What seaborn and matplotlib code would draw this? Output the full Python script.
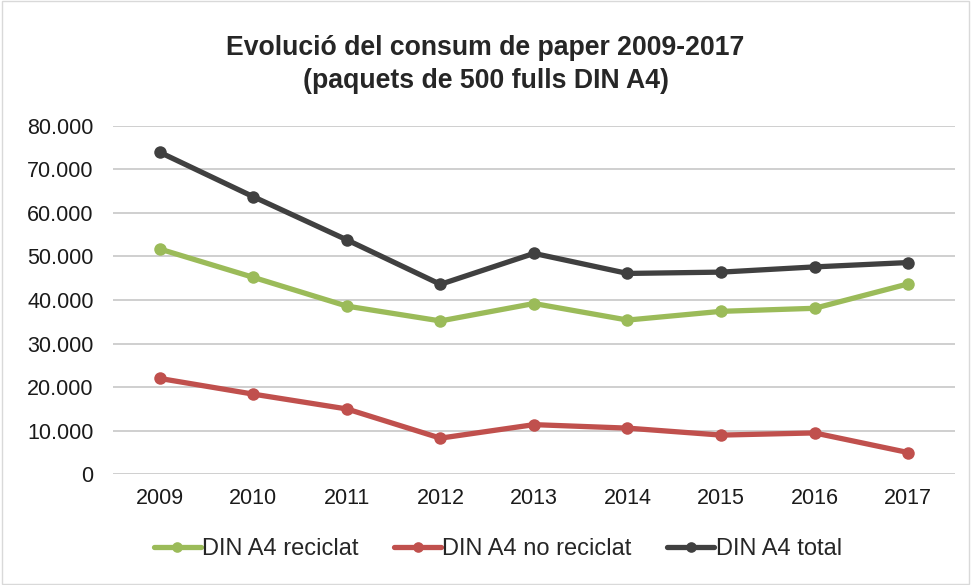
import pandas as pd
import matplotlib.pyplot as plt
import matplotlib.ticker as mticker
import seaborn as sns

# dades llegides del gràfic original
anys = ["2009", "2010", "2011", "2012", "2013", "2014", "2015", "2016", "2017"]
reciclat = [51700, 45200, 38600, 35200, 39200, 35400, 37400, 38100, 43700]
no_reciclat = [22000, 18400, 15000, 8300, 11400, 10600, 9000, 9500, 5000]
total = [73900, 63700, 53800, 43600, 50700, 46100, 46400, 47600, 48600]

series = ["DIN A4 reciclat", "DIN A4 no reciclat", "DIN A4 total"]
colors = ["#9BBB59", "#C0504D", "#404040"]

df = pd.DataFrame({
    "any": anys * 3,
    "paquets": reciclat + no_reciclat + total,
    "serie": [s for s in series for _ in anys],
})

sns.set_theme(style="white")
plt.rcParams["font.family"] = ["Liberation Sans", "DejaVu Sans"]

fig = plt.figure(figsize=(9.71, 5.85), dpi=100)
ax = fig.add_axes([0.1164, 0.1892, 0.867, 0.5959])

sns.lineplot(
    data=df, x="any", y="paquets", hue="serie", hue_order=series,
    palette=colors, marker="o", markersize=9, markeredgewidth=0,
    linewidth=3.8, ax=ax, sort=False,
)

ax.set_ylim(0, 80000)
ax.set_xlim(-0.5, 8.5)
ax.yaxis.set_major_locator(mticker.MultipleLocator(10000))
ax.yaxis.set_major_formatter(
    mticker.FuncFormatter(lambda v, _: f"{int(v):,}".replace(",", "."))
)
ax.yaxis.grid(True, color="#CCCCCC", linewidth=1.3)
ax.set_axisbelow(True)
for sp in ax.spines.values():
    sp.set_visible(False)
ax.tick_params(axis="both", length=0, labelsize=15.5, colors="#1a1a1a")
ax.tick_params(axis="x", pad=10)
ax.tick_params(axis="y", pad=14)
ax.set_xlabel("")
ax.set_ylabel("")

fig.text(0.5, 0.918, "Evolució del consum de paper 2009-2017",
         ha="center", va="center", fontsize=19.2, fontweight="bold")
fig.text(0.5, 0.862, "(paquets de 500 fulls DIN A4)",
         ha="center", va="center", fontsize=19.2, fontweight="bold")

ax.legend(
    loc="center", bbox_to_anchor=(0.457, -0.215), ncol=3, frameon=False,
    fontsize=17, handlelength=2.0, handletextpad=0.05, columnspacing=1.5,
    markerscale=0.85,
)

fig.patches.append(plt.Rectangle((0.002, 0.002), 0.996, 0.996, transform=fig.transFigure,
                                 fill=False, edgecolor="#D9D9D9", linewidth=1))

fig.savefig("out.png", dpi=100)
